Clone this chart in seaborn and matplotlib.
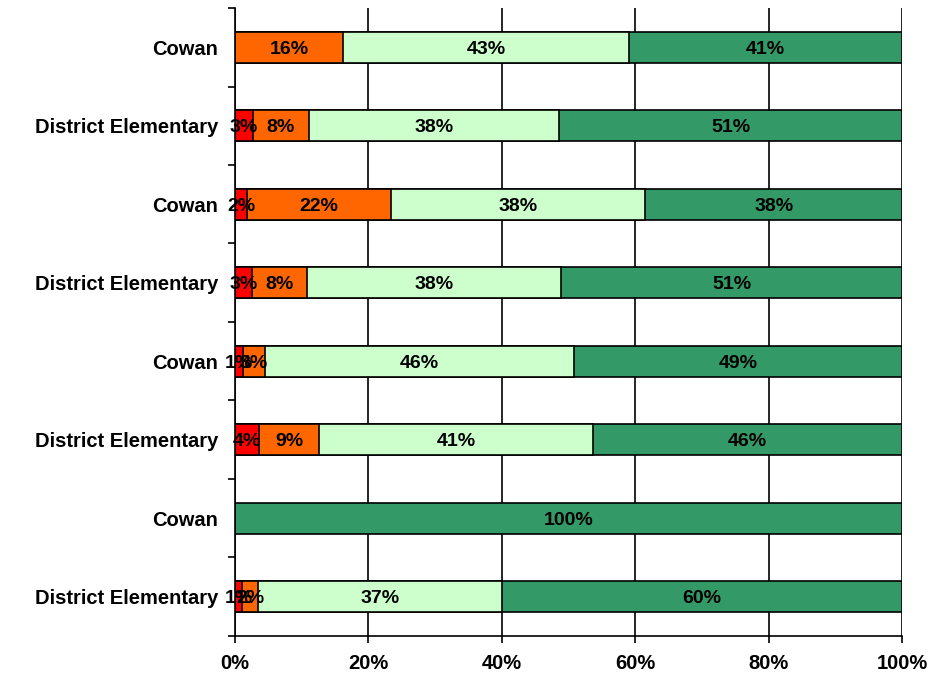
import numpy as np
import pandas as pd
import matplotlib
matplotlib.use('Agg')
import matplotlib.pyplot as plt
import seaborn as sns

schools = ['Cowan', 'District Elementary', 'Cowan', 'District Elementary',
           'Cowan', 'District Elementary', 'Cowan', 'District Elementary']
red = [0.0, 2.7, 1.8, 2.6, 1.2, 3.6, 0.0, 1.1]
orange = [16.2, 8.4, 21.6, 8.2, 3.3, 9.0, 0.0, 2.4]
light_green = [42.9, 37.5, 38.1, 38.1, 46.4, 41.1, 0.0, 36.6]
dark_green = [40.9, 51.4, 38.5, 51.1, 49.1, 46.3, 100.0, 59.9]
x_ticks = [0, 20, 40, 60, 80, 100]
x_labels = ['0%', '20%', '40%', '60%', '80%', '100%']

colors = ['#FF0000', '#FF6600', '#CCFFCC', '#339966']
series = [red, orange, light_green, dark_green]

sns.set_style('white')
plt.rcParams['font.family'] = ['Liberation Sans', 'DejaVu Sans']
plt.rcParams['font.weight'] = 'bold'
plt.rcParams['text.color'] = 'black'

rows = ['r%d' % i for i in range(len(schools))]
cum = np.zeros(len(rows))
starts = []
for s in series:
    starts.append(cum.copy())
    cum = cum + np.array(s)
ends = [st + np.array(s) for st, s in zip(starts, series)]

fig = plt.figure(figsize=(9.38, 6.84), dpi=100)
ax = fig.add_axes([0.2505, 0.0702, 0.7111, 0.9181])

# cumulative bars, drawn from the last segment back to the first
for k in range(len(series) - 1, -1, -1):
    d = pd.DataFrame({'row': rows, 'val': ends[k]})
    d = d[np.array(series[k]) > 0]
    sns.barplot(data=d, x='val', y='row', order=rows, orient='h',
                color=colors[k], saturation=1, width=0.4,
                edgecolor='black', linewidth=1.2, ax=ax, zorder=2)

for k, s in enumerate(series):
    for i, v in enumerate(s):
        if v > 0:
            ax.text(starts[k][i] + v / 2, i, '%d%%' % round(v),
                    ha='center', va='center_baseline', fontsize=14,
                    fontweight='bold', color='black', zorder=5)

ax.set_xlim(0, 100)
ax.set_ylim(len(rows) - 0.5, -0.5)
ax.set_xticks(x_ticks)
ax.set_xticklabels(x_labels, fontsize=14.5, fontweight='bold')
ax.set_yticks(np.arange(-0.5, len(rows), 1.0))
ax.set_yticklabels([])
ax.set_yticks(np.arange(len(rows)), minor=True)
ax.set_yticklabels(schools, minor=True, fontsize=14.5, fontweight='bold')
ax.tick_params(axis='y', which='major', direction='out', length=5,
               width=1.2, color='black', left=True)
ax.tick_params(axis='y', which='minor', length=0, pad=12, left=True,
               labelcolor='black')
ax.tick_params(axis='x', direction='out', length=5, width=1.2,
               color='black', bottom=True, pad=8, labelcolor='black')
ax.set_xlabel('')
ax.set_ylabel('')
ax.set_axisbelow(True)
ax.grid(axis='x', color='black', linewidth=1.2, zorder=0)
ax.grid(axis='y', visible=False)
sns.despine(ax=ax, top=True, right=True)
for side in ['left', 'bottom']:
    ax.spines[side].set_color('black')
    ax.spines[side].set_linewidth(1.2)

fig.savefig('out.png', dpi=100)
